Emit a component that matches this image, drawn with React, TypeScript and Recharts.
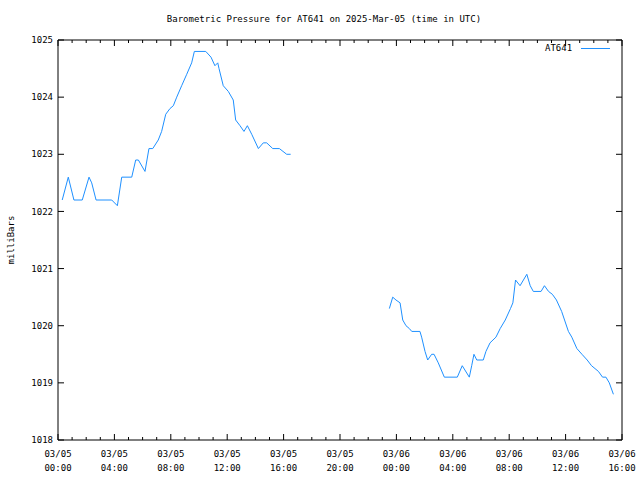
import { Legend, Line, LineChart, XAxis, YAxis } from "recharts";

// hours since 2025-03-05 00:00 UTC, pressure in mbar (null = no data)
const hours = [
  0.3, 0.73, 1.13, 1.72, 2.2, 2.39, 2.7, 3.81, 4.21, 4.52, 5.23, 5.51, 5.7, 6.17, 6.45, 6.72, 7.11, 7.35,
  7.64, 7.94, 8.18, 8.42, 8.77, 9.13, 9.48, 9.67, 10.48, 10.85, 11.13, 11.33, 11.42, 11.72, 12.08, 12.43,
  12.6, 12.91, 13.19, 13.43, 13.74, 14.21, 14.56, 14.8, 15.23, 15.7, 16.22, 16.5,
  20,
  23.5, 23.74, 23.97, 24.26, 24.45, 24.68, 24.92, 25.09, 25.67, 25.79, 26.03, 26.22, 26.5, 26.67, 26.97,
  27.4, 28.32, 28.67, 29.17, 29.34, 29.5, 29.7, 30.16, 30.35, 30.64, 31.06, 31.36, 31.72, 32.09, 32.26,
  32.45, 32.77, 33.25, 33.49, 33.71, 34.26, 34.5, 34.79, 35.06, 35.35, 35.72, 36.2, 36.44, 36.8, 37.16,
  37.53, 37.84, 38.33, 38.62, 38.86, 39.1, 39.39,
];
const pressure = [
  1022.2, 1022.6, 1022.2, 1022.2, 1022.6, 1022.5, 1022.2, 1022.2, 1022.1, 1022.6, 1022.6, 1022.9, 1022.9,
  1022.7, 1023.1, 1023.1, 1023.25, 1023.4, 1023.7, 1023.8, 1023.85, 1024.0, 1024.2, 1024.4, 1024.6, 1024.8,
  1024.8, 1024.7, 1024.55, 1024.6, 1024.5, 1024.2, 1024.1, 1023.95, 1023.6, 1023.5, 1023.4, 1023.5,
  1023.35, 1023.1, 1023.2, 1023.2, 1023.1, 1023.1, 1023.0, 1023.0,
  null,
  1020.3, 1020.5, 1020.45, 1020.4, 1020.1, 1020.0, 1019.95, 1019.9, 1019.9, 1019.8, 1019.55, 1019.4,
  1019.5, 1019.5, 1019.35, 1019.1, 1019.1, 1019.3, 1019.1, 1019.3, 1019.5, 1019.4, 1019.4, 1019.55,
  1019.7, 1019.8, 1019.95, 1020.1, 1020.3, 1020.4, 1020.8, 1020.7, 1020.9, 1020.7, 1020.6, 1020.6, 1020.7,
  1020.6, 1020.55, 1020.45, 1020.25, 1019.9, 1019.8, 1019.6, 1019.5, 1019.4, 1019.3, 1019.2, 1019.1,
  1019.1, 1019.0, 1018.8,
];
const hourTicks = Array.from({ length: 41 }, (_, i) => i);
const pressureTicks = [1018, 1019, 1020, 1021, 1022, 1023, 1024, 1025];

const data = hours.map((h, i) => ({ h, p: pressure[i] }));

const font = '"DejaVu Sans Mono", monospace';
const blue = "#1e90ff";

function dateLabel(h: number) {
  const day = h < 24 ? "03/05" : "03/06";
  const hh = String(h % 24).padStart(2, "0");
  return [day, `${hh}:00`];
}

function BottomTick(props: any) {
  const { x, y, payload } = props;
  const major = payload.value % 4 === 0;
  const [d, t] = dateLabel(payload.value);
  return (
    <g>
      <line x1={x} y1={y} x2={x} y2={y - (major ? 6 : 3)} stroke="#000" />
      {major && (
        <text x={x} y={y} textAnchor="middle" fontFamily={font} fontSize={9} fill="#000">
          <tspan x={x} dy={16.5}>{d}</tspan>
          <tspan x={x} dy={14}>{t}</tspan>
        </text>
      )}
    </g>
  );
}

function TopTick(props: any) {
  const { x, y, payload } = props;
  const major = payload.value % 4 === 0;
  return <line x1={x} y1={y} x2={x} y2={y + (major ? 6 : 3)} stroke="#000" />;
}

function RightTick(props: any) {
  const { x, y } = props;
  return <line x1={x} y1={y} x2={x - 6} y2={y} stroke="#000" />;
}

function LegendBox() {
  return (
    <div style={{ display: "flex", alignItems: "center", fontFamily: font, fontSize: 9 }}>
      <span>AT641</span>
      <svg width={29} height={3} style={{ marginLeft: 9 }}>
        <line x1={0} y1={1.5} x2={29} y2={1.5} stroke={blue} />
      </svg>
    </div>
  );
}

export default function App() {
  return (
    <div style={{ position: "absolute", left: 0, top: 0, width: 640, height: 480, background: "#fff" }}>
      <div
        style={{
          position: "absolute", left: 0, width: 648, top: 13, textAlign: "center",
          fontFamily: font, fontSize: 9, lineHeight: "12px",
        }}
      >
        Barometric Pressure for AT641 on 2025-Mar-05 (time in UTC)
      </div>
      <div
        style={{
          position: "absolute", left: 11, top: 240, transform: "translate(-50%, -50%) rotate(-90deg)",
          fontFamily: font, fontSize: 9, lineHeight: "12px", whiteSpace: "nowrap",
        }}
      >
        milliBars
      </div>
      <LineChart width={640} height={480} data={data} margin={{ top: 39, right: 17, bottom: 0, left: 0 }}>
        <XAxis
          dataKey="h"
          type="number"
          domain={[0, 40]}
          ticks={hourTicks}
          interval={0}
          height={40}
          stroke="#000"
          tickLine={false}
          tickSize={0}
          tickMargin={0}
          tick={<BottomTick />}
        />
        <XAxis
          xAxisId="top"
          dataKey="h"
          orientation="top"
          type="number"
          domain={[0, 40]}
          ticks={hourTicks}
          interval={0}
          height={1}
          stroke="#000"
          tickLine={false}
          tickSize={0}
          tickMargin={0}
          tick={<TopTick />}
        />
        <YAxis
          type="number"
          domain={[1018, 1025]}
          ticks={pressureTicks}
          interval={0}
          width={58}
          stroke="#000"
          tickSize={-6}
          tickMargin={11}
          tick={{ fill: "#000", fontFamily: font, fontSize: 9 }}
        />
        <YAxis
          yAxisId="right"
          orientation="right"
          type="number"
          domain={[1018, 1025]}
          ticks={pressureTicks}
          interval={0}
          width={1}
          stroke="#000"
          tickLine={false}
          tickSize={0}
          tickMargin={0}
          tick={<RightTick />}
        />
        <Legend
          layout="horizontal"
          verticalAlign="middle"
          align="center"
          wrapperStyle={{ left: 545, top: 43, width: 80, height: 12 }}
          content={<LegendBox />}
        />
        {/* invisible copy so the mirrored top/right axes get drawn */}
        <Line
          xAxisId="top"
          yAxisId="right"
          type="linear"
          dataKey="p"
          stroke="none"
          legendType="none"
          dot={false}
          activeDot={false}
          isAnimationActive={false}
        />
        <Line
          type="linear"
          dataKey="p"
          name="AT641"
          stroke={blue}
          strokeWidth={1}
          dot={false}
          activeDot={false}
          isAnimationActive={false}
        />
      </LineChart>
    </div>
  );
}
